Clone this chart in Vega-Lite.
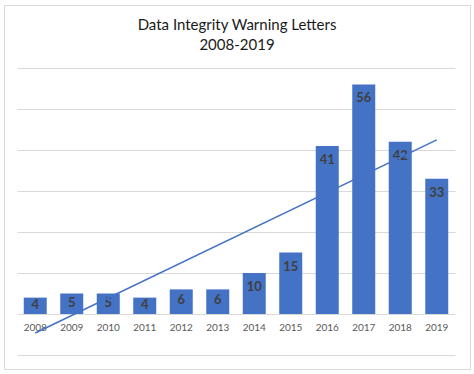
{
  "$schema": "https://vega.github.io/schema/vega-lite/v6.json",
  "width": 466,
  "height": 364,
  "autosize": {"type": "none"},
  "padding": {"left": 4, "top": 5, "right": 4, "bottom": 5},
  "background": "white",
  "config": {
    "view": {"stroke": "#D9D9D9", "strokeWidth": 1},
    "font": "Lato"
  },
  "title": {
    "text": ["Data Integrity Warning Letters", "2008-2019"],
    "fontSize": 15,
    "fontWeight": "normal",
    "color": "#1a1a1a",
    "anchor": "middle",
    "frame": "group",
    "offset": -48,
    "lineHeight": 20,
    "baseline": "top"
  },
  "data": {
    "values": [
      {"year": 2008, "letters": 4},
      {"year": 2009, "letters": 5},
      {"year": 2010, "letters": 5},
      {"year": 2011, "letters": 4},
      {"year": 2012, "letters": 6},
      {"year": 2013, "letters": 6},
      {"year": 2014, "letters": 10},
      {"year": 2015, "letters": 15},
      {"year": 2016, "letters": 41},
      {"year": 2017, "letters": 56},
      {"year": 2018, "letters": 42},
      {"year": 2019, "letters": 33}
    ]
  },
  "encoding": {
    "x": {
      "field": "year",
      "type": "ordinal",
      "scale": {"range": [13, 451], "paddingInner": 0.37, "paddingOuter": 0.185},
      "axis": {
        "title": null,
        "labelAngle": 0,
        "ticks": false,
        "domain": false,
        "grid": false,
        "labelColor": "#595959",
        "labelFontSize": 10,
        "labelPadding": 8,
        "offset": -55
      }
    }
  },
  "layer": [
    {
      "mark": {"type": "bar", "color": "#4472C4"},
      "encoding": {
        "y": {
          "field": "letters",
          "type": "quantitative",
          "scale": {"domain": [-10, 60], "range": [350, 63], "nice": false},
          "axis": {
            "title": null,
            "labels": false,
            "ticks": false,
            "domain": false,
            "grid": true,
            "gridColor": "#D9D9D9",
            "values": [-10, 0, 10, 20, 30, 40, 50, 60]
          }
        }
      }
    },
    {
      "mark": {
        "type": "text",
        "fontWeight": "bold",
        "fontSize": 13,
        "color": "#404040",
        "baseline": "middle",
        "dy": {"expr": "min(14, datum.letters*1.8)"}
      },
      "encoding": {
        "y": {"field": "letters", "type": "quantitative"},
        "text": {"field": "letters", "type": "quantitative"}
      }
    },
    {
      "transform": [{"regression": "letters", "on": "year"}],
      "mark": {"type": "line", "color": "#4472C4", "strokeWidth": 1.5},
      "encoding": {
        "y": {"field": "letters", "type": "quantitative"}
      }
    }
  ]
}
